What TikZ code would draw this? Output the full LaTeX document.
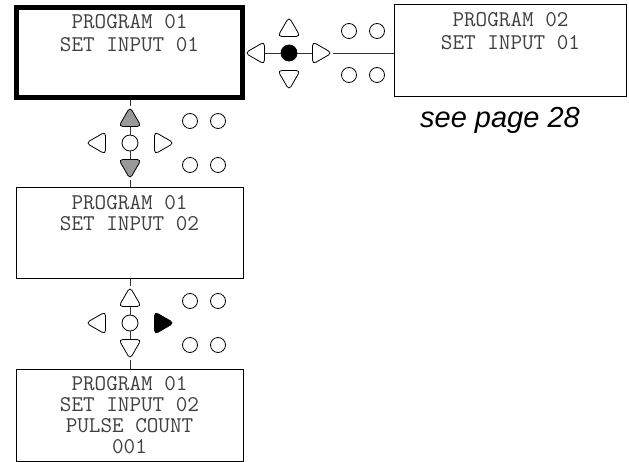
\documentclass[tikz,border=0pt]{standalone}
\usepackage{fontspec}
\newfontfamily\notefont{Liberation Sans}
\usetikzlibrary{shapes.geometric}
\tikzstyle{screen}=[draw,rectangle,line width=1pt,minimum width=227,minimum height=91,inner sep=0pt,align=center,font=\ttfamily\fontsize{22.5}{21}\selectfont,text=black!75]
\tikzstyle{key}=[draw,regular polygon,regular polygon sides=3,minimum size=26,inner sep=0pt,rounded corners=4pt,fill=white,line width=0.8pt]
\tikzstyle{keyup}=[key]
\tikzstyle{keydown}=[key,shape border rotate=180]
\tikzstyle{keyleft}=[key,shape border rotate=90]
\tikzstyle{keyright}=[key,shape border rotate=-90]
\tikzstyle{knob}=[draw,circle,minimum size=16,inner sep=0pt,fill=white,line width=0.8pt]
\tikzstyle{led}=[draw,circle,minimum size=15,inner sep=0pt,line width=0.8pt]
\tikzstyle{wire}=[line width=0.8pt,black!80]

\begin{document}
\begin{tikzpicture}[x=1pt,y=1pt]
\useasboundingbox (0,0) rectangle (629,-462);
% screens
\node[screen,line width=5pt,minimum width=226,minimum height=90,font=\ttfamily\fontsize{22.5}{23}\selectfont] at (129.5,-52.5) (p1) {PROGRAM 01\\SET INPUT 01\\\mbox{}\\[-6pt]\mbox{}};
\node[screen,minimum width=232,minimum height=92,font=\ttfamily\fontsize{22.5}{23}\selectfont] at (510.5,-51) (p2) {PROGRAM 02\\SET INPUT 01\\\mbox{}\\[-6pt]\mbox{}};
\node[screen] at (129.5,-233.5) (p3) {PROGRAM 01\\SET INPUT 02\\\mbox{}\\\mbox{}};
\node[screen,minimum height=92] at (129.5,-415) (p4) {PROGRAM 01\\SET INPUT 02\\PULSE COUNT\\001};
\node[font=\notefont\itshape\fontsize{29}{30}\selectfont] at (500,-120) (note) {see page 28};
% keypad next to program 01
\node[keyup] at (289,-30) (u1) {};
\node[keydown] at (289,-77) (d1) {};
\node[keyleft] at (258,-53) (l1) {};
\node[keyright] at (319,-53) (r1) {};
\node[knob,fill=black] at (289,-53) (c1) {};
% keypad between input 01 and input 02
\node[keyup,fill=gray!80] at (130,-120) (u2) {};
\node[keydown,fill=gray!80] at (130,-166) (d2) {};
\node[keyleft] at (99,-143) (l2) {};
\node[keyright] at (161,-143) (r2) {};
\node[knob] at (130,-143) (c2) {};
% keypad above pulse count
\node[keyup] at (130,-300) (u3) {};
\node[keydown] at (130,-346) (d3) {};
\node[keyleft] at (99,-323) (l3) {};
\node[keyright,fill=black] at (161,-323) (r3) {};
\node[knob] at (130,-323) (c3) {};
% leds
\foreach \n/\x/\y in {1/289/-53, 2/130/-143, 3/130/-323} {
  \node[led] at (\x+60,\y+22) (a\n) {};
  \node[led] at (\x+88,\y+22) (b\n) {};
  \node[led] at (\x+60,\y-22) (e\n) {};
  \node[led] at (\x+88,\y-22) (f\n) {};
}
% wires
\draw[wire] (p1.east |- l1) -- (l1) (l1) -- (c1) (c1) -- (r1) (r1) -- (r1 -| p2.west);
\draw[wire] (p1.south -| u2) -- (u2) (u2) -- (c2) (c2) -- (d2) (d2) -- (d2 |- p3.north);
\draw[wire] (p3.south -| u3) -- (u3) (u3) -- (c3) (c3) -- (d3) (d3) -- (d3 |- p4.north);
\end{tikzpicture}
\end{document}
